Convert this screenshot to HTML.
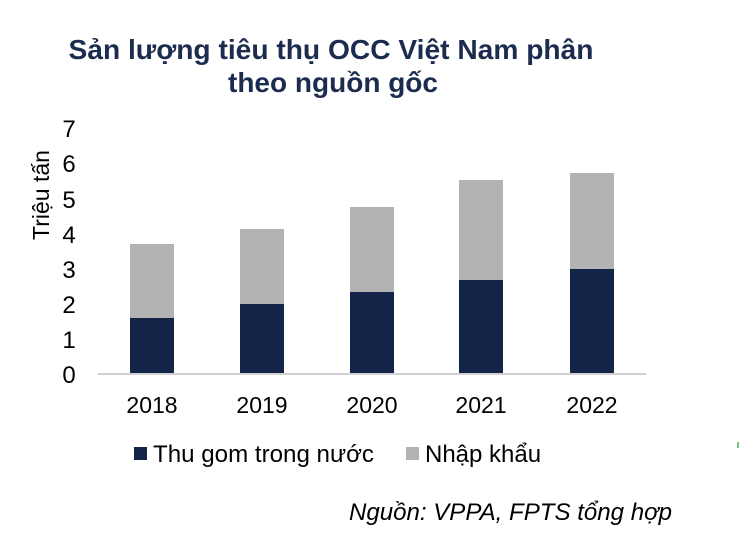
<!DOCTYPE html>
<html><head><meta charset="utf-8"><style>
body{margin:0;background:#fff;width:754px;height:534px;overflow:hidden;font-family:"Liberation Sans",sans-serif}
</style></head><body>
<svg width="754" height="534" xmlns="http://www.w3.org/2000/svg" font-family="Liberation Sans, sans-serif">
<text x="331" y="59" text-anchor="middle" font-size="28" font-weight="bold" fill="#1c2c4f" textLength="525" lengthAdjust="spacingAndGlyphs">Sản lượng tiêu thụ OCC Việt Nam phân</text>
<text x="333" y="92" text-anchor="middle" font-size="28" font-weight="bold" fill="#1c2c4f" textLength="210" lengthAdjust="spacingAndGlyphs">theo nguồn gốc</text>
<g font-size="24" fill="#000" text-anchor="middle">
<text x="69" y="383">0</text><text x="69" y="348">1</text><text x="69" y="313">2</text><text x="69" y="278">3</text><text x="69" y="243">4</text><text x="69" y="208">5</text><text x="69" y="172">6</text><text x="69" y="137">7</text>
</g>
<text transform="translate(49,195) rotate(-90)" text-anchor="middle" font-size="23" fill="#000">Triệu tấn</text>
<g fill="#b3b3b3">
<rect x="130" y="244" width="44" height="74"/><rect x="240" y="229" width="44" height="75"/><rect x="350" y="207" width="44" height="85"/><rect x="459" y="180" width="44" height="100"/><rect x="570" y="173" width="44" height="96"/>
</g>
<g fill="#142448">
<rect x="130" y="318" width="44" height="56"/><rect x="240" y="304" width="44" height="70"/><rect x="350" y="292" width="44" height="82"/><rect x="459" y="280" width="44" height="94"/><rect x="570" y="269" width="44" height="105"/>
</g>
<line x1="98" y1="374" x2="646" y2="374" stroke="#d0d0d0" stroke-width="2"/>
<g font-size="23" fill="#000" text-anchor="middle">
<text x="152" y="413">2018</text><text x="262" y="413">2019</text><text x="372" y="413">2020</text><text x="481" y="413">2021</text><text x="592" y="413">2022</text>
</g>
<rect x="134" y="447" width="13" height="13" fill="#142448"/>
<text x="153" y="462" font-size="24" fill="#000" textLength="221" lengthAdjust="spacingAndGlyphs">Thu gom trong nước</text>
<rect x="406" y="447" width="13" height="13" fill="#b3b3b3"/>
<text x="425" y="462" font-size="24" fill="#000">Nhập khẩu</text>
<text x="672" y="520" text-anchor="end" font-size="24" font-style="italic" fill="#000" textLength="323" lengthAdjust="spacingAndGlyphs">Nguồn: VPPA, FPTS tổng hợp</text>
<rect x="737" y="442" width="2" height="6" fill="#7ac27a"/>
</svg>
</body></html>
